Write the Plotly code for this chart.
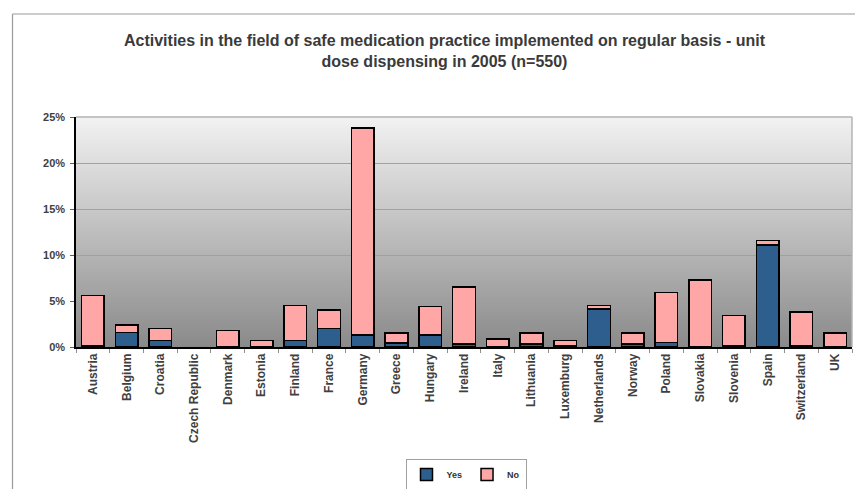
import plotly.graph_objects as go

countries = ["Austria", "Belgium", "Croatia", "Czech Republic", "Denmark", "Estonia",
             "Finland", "France", "Germany", "Greece", "Hungary", "Ireland", "Italy",
             "Lithuania", "Luxemburg", "Netherlands", "Norway", "Poland", "Slovakia",
             "Slovenia", "Spain", "Switzerland", "UK"]
yes_vals = [0.18, 1.6, 0.7, 0, 0, 0, 0.7, 2.0, 1.3, 0.45, 1.3, 0.35, 0, 0.35, 0.18,
            4.15, 0.35, 0.5, 0, 0.18, 11.1, 0.18, 0]
no_vals = [5.42, 0.8, 1.3, 0, 1.8, 0.7, 3.8, 2.0, 22.5, 1.05, 3.1, 6.15, 0.85, 1.15, 0.52,
           0.35, 1.15, 5.45, 7.3, 3.27, 0.45, 3.62, 1.5]
y_ticks = [0, 5, 10, 15, 20, 25]
y_ticklabels = ["0%", "5%", "10%", "15%", "20%", "25%"]

# page body has an 8px margin; figure placed at (8, 8)
OFF = 8
W, H = 863 - OFF, 489 - OFF
L, R, T, B = 76 - OFF, 11, 117 - OFF, 142
pw, ph = W - L - R, H - T - B

def px_x(x):
    return (x - OFF - L) / pw

def px_y(y):
    return (H - B - (y - OFF)) / ph

FONT = "Arial, Liberation Sans, sans-serif"

def nz(vals):
    return [v if v else None for v in vals]

fig = go.Figure()
fig.add_trace(go.Bar(x=countries, y=nz(yes_vals), name="Yes",
                     marker=dict(color="#2E5E8E", line=dict(color="black", width=1.5))))
fig.add_trace(go.Bar(x=countries, y=nz(no_vals), name="No",
                     marker=dict(color="#FFA6A6", line=dict(color="black", width=1.5))))

shapes = []
n = 115
top_c = (0xF2, 0xF2, 0xF2)
bot_c = (0x8A, 0x8A, 0x8A)
for i in range(n):
    f = (i + 0.5) / n
    c = tuple(round(bot_c[k] + (top_c[k] - bot_c[k]) * f) for k in range(3))
    shapes.append(dict(type="rect", xref="paper", yref="paper", x0=0, x1=1,
                       y0=i / n, y1=(i + 1) / n + 0.002, layer="below",
                       fillcolor="rgb(%d,%d,%d)" % c, line=dict(width=0)))
shapes.append(dict(type="line", xref="paper", yref="paper", x0=0, x1=1, y0=1, y1=1,
                   line=dict(color="#B4B4B4", width=1.5)))
shapes.append(dict(type="line", xref="paper", yref="paper", x0=1, x1=1, y0=0, y1=1,
                   line=dict(color="#B4B4B4", width=1.5)))
shapes.append(dict(type="line", xref="paper", yref="paper",
                   x0=px_x(12.5), x1=px_x(880), y0=px_y(14), y1=px_y(14),
                   line=dict(color="#9A9A9A", width=1.2)))
shapes.append(dict(type="line", xref="paper", yref="paper",
                   x0=px_x(12.5), x1=px_x(12.5), y0=px_y(14), y1=px_y(500),
                   line=dict(color="#9A9A9A", width=1.2)))

fig.update_layout(
    width=W, height=H,
    margin=dict(l=L, r=R, t=T, b=B, autoexpand=False),
    barmode="stack", bargap=0.33,
    paper_bgcolor="white", plot_bgcolor="#8A8A8A",
    font=dict(family=FONT, color="#404040"),
    title=dict(text="Activities in the field of safe medication practice implemented on regular basis - unit<br>dose dispensing in 2005 (n=550)",
               x=px_x(444.5), xref="paper", xanchor="center",
               y=1 - (46 - OFF) / H, yref="container", yanchor="middle",
               font=dict(family=FONT, size=16, color="#3A3A3A", weight="bold")),
    xaxis=dict(type="category", tickangle=-90, showgrid=False, automargin=False,
               showline=True, linecolor="black", linewidth=1.5,
               ticks="outside", tickson="boundaries", ticklen=4, tickcolor="#909090",
               tickfont=dict(family=FONT, size=12, color="#404040", weight="bold")),
    yaxis=dict(range=[0, 25], tickvals=y_ticks, ticktext=y_ticklabels, automargin=False,
               showgrid=True, gridcolor="#A0A0A0", gridwidth=1.2,
               showline=True, linecolor="black", linewidth=1.5,
               ticks="outside", ticklen=4, tickcolor="#606060",
               zeroline=False, ticklabelstandoff=3,
               tickfont=dict(family=FONT, size=11, color="#404040", weight="bold")),
    legend=dict(orientation="h", x=px_x(466), xanchor="center",
                y=px_y(459), yanchor="top",
                bordercolor="#A0A0A0", borderwidth=1, bgcolor="white",
                itemwidth=30, traceorder="normal",
                font=dict(family=FONT, size=9, color="#333333", weight="bold")),
    shapes=shapes,
)

fig.write_html("out.html")
